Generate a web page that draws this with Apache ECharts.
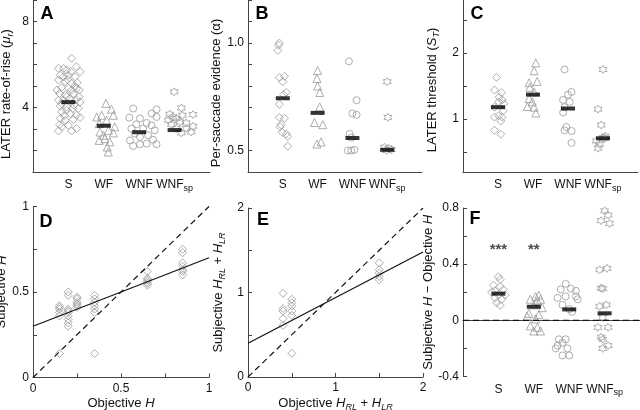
<!DOCTYPE html>
<html>
<head>
<meta charset="utf-8">
<script src="https://cdn.jsdelivr.net/npm/echarts@6/dist/echarts.min.js"></script>
<style>
  html, body { margin: 0; padding: 0; background: #fff; }
  #chart { width: 640px; height: 410px; }
</style>
</head>
<body>
<div id="chart"></div>
<script>
// group names used on panels A, B, C and F
const GROUPS = ['S', 'WF', 'WNF', 'WNFsp']

// panel A - LATER rate-of-rise, points as [jittered group position, value]
const riseS = [[0.72, 5.82], [0.86, 5.82], [0.95, 5.74], [1.22, 5.9], [1.09, 6.29], [1.33, 5.67], [0.77, 5.5], [1.0, 5.5],
  [1.19, 5.43], [0.72, 5.28], [0.91, 5.2], [1.09, 5.12], [1.25, 5.15], [0.81, 4.93], [1.0, 4.89], [1.31, 4.81],
  [0.75, 4.65], [0.91, 4.58], [1.14, 4.62], [0.72, 4.34], [0.86, 4.34], [1.05, 4.42], [1.22, 4.37], [1.33, 4.26],
  [0.77, 4.06], [0.95, 4.03], [1.16, 4.11], [1.28, 3.95], [0.81, 3.8], [1.05, 3.72], [1.23, 3.64], [0.77, 3.49],
  [0.91, 3.41], [1.14, 3.44], [1.33, 3.53], [0.81, 3.1], [1.0, 3.17], [1.23, 3.02], [0.72, 2.91], [1.09, 2.91],
  [0.95, 3.88], [1.09, 4.81], [0.81, 4.19], [1.23, 4.89], [0.95, 4.5], [0.86, 5.43], [1.07, 5.67], [0.68, 4.81],
  [1.3, 4.5], [1.12, 3.95], [0.88, 3.62], [1.18, 5.0], [0.98, 5.3], [0.75, 3.2]]
const riseWF = [[2.06, 4.19], [2.22, 3.92], [1.8, 3.56], [1.94, 3.64], [2.08, 3.41], [2.27, 3.64], [1.87, 3.25],
  [2.31, 3.1], [2.13, 2.94], [1.89, 2.86], [2.27, 2.82], [1.99, 2.71], [1.87, 2.47], [2.03, 2.55], [2.17, 2.4],
  [2.1, 2.16], [2.13, 1.93]]
const riseWNF = [[2.83, 3.95], [3.49, 3.91], [2.72, 3.53], [3.35, 3.72], [3.49, 3.56], [3.02, 3.49], [3.21, 3.28],
  [2.92, 3.22], [3.35, 3.17], [2.78, 3.02], [3.11, 3.02], [3.44, 2.94], [2.88, 2.79], [3.25, 2.71], [3.02, 2.63],
  [2.74, 2.47], [3.39, 2.5], [2.83, 2.21], [3.02, 2.29], [3.21, 2.32], [3.49, 2.29]]
const riseWNFsp = [[3.99, 4.73], [4.19, 3.98], [3.86, 3.69], [3.95, 3.56], [4.05, 3.49], [4.22, 3.64], [4.52, 3.67],
  [3.82, 3.41], [4.15, 3.33], [4.33, 3.28], [3.91, 3.22], [4.52, 3.13], [4.05, 3.02], [4.33, 3.02], [4.47, 2.86],
  [4.19, 2.82]]
const riseMedians = [4.25, 3.15, 2.85, 2.95]

// panel B - per-saccade evidence
const alphaS = [[0.9, 1.0], [0.88, 0.99], [0.86, 0.965], [0.9, 0.84], [1.05, 0.845], [1.0, 0.82], [1.1, 0.77],
  [1.02, 0.76], [0.9, 0.715], [0.9, 0.654], [1.05, 0.65], [0.95, 0.62], [0.92, 0.61], [0.98, 0.585], [1.1, 0.577],
  [1.14, 0.565], [1.14, 0.52]]
const alphaWF = [[2.0, 0.872], [1.98, 0.835], [2.0, 0.8], [2.06, 0.77], [2.06, 0.703], [1.91, 0.63], [2.15, 0.62],
  [2.1, 0.54], [1.98, 0.53]]
const alphaWNF = [[2.9, 0.915], [3.12, 0.734], [3.0, 0.672], [3.12, 0.666], [2.92, 0.577], [2.97, 0.56],
  [2.87, 0.5], [2.97, 0.5], [3.06, 0.503]]
const alphaWNFsp = [[4.0, 0.82], [4.02, 0.654], [3.92, 0.515], [4.04, 0.51], [4.12, 0.505], [3.98, 0.5]]
const alphaMedians = [0.743, 0.675, 0.558, 0.503]

// panel C - LATER threshold
const threshS = [[0.96, 1.63], [0.9, 1.44], [1.1, 1.4], [1.03, 1.33], [1.12, 1.29], [1.02, 1.26], [1.17, 1.23],
  [0.9, 1.18], [1.15, 1.13], [1.02, 1.05], [1.12, 1.03], [0.9, 1.03], [1.08, 0.97], [0.9, 0.83], [1.08, 0.77]]
const threshWF = [[2.08, 1.85], [2.03, 1.73], [2.12, 1.57], [1.89, 1.55], [1.91, 1.48], [2.03, 1.41], [1.89, 1.31],
  [1.98, 1.26], [1.84, 1.19], [2.03, 1.18], [2.08, 1.09]]
const threshWNF = [[2.9, 1.75], [3.1, 1.41], [3.0, 1.37], [2.86, 1.29], [3.05, 1.26], [2.9, 1.18], [2.86, 1.1],
  [2.95, 0.88], [2.9, 0.83], [3.1, 0.82], [3.1, 0.64]]
const threshWNFsp = [[4.0, 1.75], [3.86, 1.15], [3.95, 0.91], [3.81, 0.67], [4.0, 0.72], [4.07, 0.74],
  [3.86, 0.56], [3.9, 0.62], [4.05, 0.71]]
const threshMedians = [1.18, 1.37, 1.16, 0.71]

// panel D - subjective vs objective H
const hazardPoints = [[0.15, 0.42], [0.15, 0.41], [0.15, 0.4], [0.15, 0.38], [0.15, 0.36], [0.15, 0.14],
  [0.2, 0.5], [0.2, 0.48], [0.2, 0.4], [0.2, 0.39], [0.2, 0.38], [0.2, 0.36], [0.2, 0.34], [0.2, 0.32], [0.2, 0.3],
  [0.25, 0.47], [0.25, 0.46], [0.25, 0.44], [0.25, 0.43], [0.25, 0.42], [0.25, 0.41],
  [0.35, 0.48], [0.35, 0.46], [0.35, 0.44], [0.35, 0.42], [0.35, 0.4], [0.35, 0.38], [0.35, 0.14],
  [0.65, 0.62], [0.65, 0.58], [0.65, 0.57], [0.65, 0.56], [0.65, 0.55], [0.65, 0.54],
  [0.85, 0.75], [0.85, 0.73], [0.85, 0.67], [0.85, 0.65], [0.85, 0.63], [0.85, 0.62], [0.85, 0.6]]
const hazardFit = [[0, 0.3], [1, 0.7]]
const hazardUnity = [[0, 0], [1, 1]]

// panel E - summed switch hazards
const switchPoints = [[0.4, 0.99], [0.4, 0.81], [0.4, 0.78], [0.4, 0.69], [0.4, 0.61],
  [0.5, 0.92], [0.5, 0.88], [0.5, 0.84], [0.5, 0.78], [0.5, 0.73], [0.5, 0.28],
  [1.5, 1.35], [1.5, 1.27], [1.5, 1.23], [1.5, 1.19], [1.5, 1.15]]
const switchFit = [[0, 0.4], [2, 1.48]]
const switchUnity = [[0, 0], [2, 2]]

// panel F - subjective minus objective H
const biasS = [[1.0, 0.31], [1.05, 0.29], [0.86, 0.25], [1.05, 0.24], [0.9, 0.21], [1.14, 0.22], [0.81, 0.2],
  [1.0, 0.18], [1.19, 0.18], [0.9, 0.16], [1.1, 0.15], [0.95, 0.125], [1.05, 0.106]]
const biasWF = [[1.86, 0.05], [2.05, 0.17], [2.14, 0.18], [1.9, 0.15], [2.1, 0.14], [2.19, 0.15], [2.0, 0.11],
  [2.24, 0.09], [1.81, 0.03], [2.14, 0.04], [2.05, 0.01], [2.1, -0.05], [2.0, -0.076], [2.19, -0.076], [1.9, -0.04]]
const biasWNF = [[2.9, 0.26], [2.76, 0.22], [3.05, 0.225], [3.19, 0.21], [2.9, 0.17], [3.19, 0.17], [2.67, 0.16],
  [3.24, 0.15], [2.81, 0.11], [3.0, 0.08], [3.08, 0.06], [2.9, -0.135], [2.71, -0.135], [2.81, -0.16],
  [2.67, -0.18], [2.95, -0.2], [2.62, -0.2], [2.81, -0.25], [3.0, -0.25]]
const biasWNFsp = [[4.0, 0.78], [4.1, 0.75], [3.9, 0.71], [4.14, 0.69], [3.86, 0.36], [4.07, 0.37], [3.9, 0.23],
  [3.95, 0.225], [3.86, 0.1], [4.05, 0.11], [3.95, 0.02], [3.81, -0.05], [4.1, -0.05], [3.9, -0.12],
  [3.95, -0.135], [4.1, -0.18], [3.95, -0.2]]
const biasMedians = [0.19, 0.097, 0.078, 0.05]
const biasZero = [[0, 0], [5, 0]]
const biasStars = [[1, 0.5, '***'], [2, 0.5, '**']]

// tick positions and labelled ticks
const riseTicks = [1, 2, 3, 4, 5, 6, 7, 8, 9]
const riseLabels = [4, 8]
const alphaTicks = [0.4, 0.5, 0.6, 0.7, 0.8, 0.9, 1.0, 1.1, 1.2]
const alphaLabels = [0.5, 1.0]
const threshTicks = [0.5, 1, 1.5, 2, 2.5]
const threshLabels = [1, 2]
const hazardTicks = [0, 0.25, 0.5, 0.75, 1]
const hazardLabels = [0, 0.5, 1]
const switchTicks = [0, 0.5, 1, 1.5, 2]
const switchLabels = [0, 1, 2]
const biasTicks = [-0.4, -0.2, 0, 0.2, 0.4, 0.6, 0.8]
const biasLabels = [-0.4, 0, 0.4, 0.8]
const groupTicks = [1, 2, 3, 4]

const FONT = 'Liberation Sans, Arial, sans-serif'
const AXIS_COLOR = '#444'
const TEXT_COLOR = '#111'
const MARK_GREY = '#9a9a9a'
const HEXAGRAM = 'path://M100,0L128.87,50L186.6,50L157.7,100L186.6,150L128.87,150L100,200L71.13,150L13.4,150L42.3,100L13.4,50L71.13,50Z'
const MARKERS = [
  { symbol: 'diamond', size: 8 },
  { symbol: 'triangle', size: 8 },
  { symbol: 'circle', size: 7 },
  { symbol: HEXAGRAM, size: 8 }
]

const GRIDS = [
  { left: 33, top: 0, width: 177, height: 172 },
  { left: 248, top: 0, width: 174, height: 172 },
  { left: 463, top: 0, width: 175, height: 172 },
  { left: 33, top: 206.5, width: 176, height: 171 },
  { left: 248, top: 208, width: 175, height: 169 },
  { left: 463, top: 208, width: 177, height: 168.5 }
]

const RICH = {
  n: { fontSize: 13, fontFamily: FONT, color: TEXT_COLOR, lineHeight: 18 },
  i: { fontSize: 13, fontFamily: FONT, color: TEXT_COLOR, fontStyle: 'italic', lineHeight: 18 },
  s: { fontSize: 9, fontFamily: FONT, color: TEXT_COLOR, fontStyle: 'italic', lineHeight: 9, verticalAlign: 'bottom' },
  t: { fontSize: 12, fontFamily: FONT, color: TEXT_COLOR, lineHeight: 16 },
  u: { fontSize: 9, fontFamily: FONT, color: TEXT_COLOR, lineHeight: 8, verticalAlign: 'bottom' }
}

const near = (a, b) => Math.abs(a - b) < 1e-6

// shift is how far a rotated y name moves down from the axis middle
const numberAxis = (gridIndex, min, max, ticks, labels, fmt, name, nameGap, isX, shift = 0) => ({
  type: 'value',
  gridIndex,
  min,
  max,
  name,
  nameLocation: 'middle',
  nameGap,
  nameTextStyle: { rich: RICH, padding: [0, shift * 2, 0, 0] },
  axisLine: { lineStyle: { color: AXIS_COLOR, width: 1 } },
  axisTick: { inside: true, length: 4, customValues: ticks, lineStyle: { color: AXIS_COLOR } },
  axisLabel: {
    customValues: labels,
    margin: isX ? 5 : 4,
    fontSize: 12,
    fontFamily: FONT,
    color: TEXT_COLOR,
    formatter: (v) => fmt(labels.find(l => near(l, v)) ?? v)
  },
  splitLine: { show: false }
})

const groupAxis = (gridIndex) => ({
  type: 'value',
  gridIndex,
  min: 0,
  max: 5,
  axisLine: { lineStyle: { color: AXIS_COLOR, width: 1 } },
  axisTick: { show: false },
  axisLabel: {
    customValues: groupTicks,
    margin: 5,
    formatter: (v) => v === 4 ? '{t|WNF}{u|sp}' : '{t|' + GROUPS[v - 1] + '}',
    rich: RICH
  },
  splitLine: { show: false }
})

const hollow = { color: 'rgba(0,0,0,0)', borderColor: MARK_GREY, borderWidth: 1 }

const groupSeries = (gi, groups, medians) => [
  ...groups.map((pts, k) => ({
    type: 'scatter',
    xAxisIndex: gi,
    yAxisIndex: gi,
    data: pts,
    symbol: MARKERS[k].symbol,
    symbolSize: MARKERS[k].size,
    itemStyle: hollow,
    silent: true
  })),
  {
    type: 'scatter',
    xAxisIndex: gi,
    yAxisIndex: gi,
    data: medians.map((m, i) => [i + 1, m]),
    symbol: 'rect',
    symbolSize: [14, 4],
    itemStyle: { color: '#000' },
    z: 5,
    silent: true
  }
]

const lineSeries = (gi, data, dashed) => ({
  type: 'line',
  xAxisIndex: gi,
  yAxisIndex: gi,
  data,
  showSymbol: false,
  silent: true,
  lineStyle: { color: '#111', width: 1.2, type: dashed ? [6, 4] : 'solid' },
  z: 4
})

const plain = (v) => String(v)
const oneDecimal = (v) => v.toFixed(1)

const letters = [['A', 47, 14], ['B', 262, 14], ['C', 477, 14], ['D', 46, 222], ['E', 263, 220], ['F', 475, 219]]

const option = {
  animation: false,
  backgroundColor: '#fff',
  grid: GRIDS.map(g => ({ ...g, outerBoundsMode: 'none' })),
  xAxis: [
    groupAxis(0),
    groupAxis(1),
    groupAxis(2),
    numberAxis(3, 0, 1, hazardTicks, hazardLabels, plain, '{n|Objective }{i|H}', 17, true),
    numberAxis(4, 0, 2, switchTicks, switchLabels, plain, '{n|Objective }{i|H}{s|RL}{n| + }{i|H}{s|LR}', 17, true),
    groupAxis(5)
  ],
  yAxis: [
    numberAxis(0, 1, 9, riseTicks, riseLabels, plain, '{n|LATER rate-of-rise (}{i|μ}{s|r}{n|)}', 18, false, 8),
    numberAxis(1, 0.4, 1.2, alphaTicks, alphaLabels, oneDecimal, '{n|Per-saccade evidence (α)}', 22, false, 7),
    numberAxis(2, 0.2, 2.8, threshTicks, threshLabels, plain, '{n|LATER threshold (}{i|S}{s|T}{n|)}', 22, false, 4),
    numberAxis(3, 0, 1, hazardTicks, hazardLabels, plain, '{n|Subjective }{i|H}', 19),
    numberAxis(4, 0, 2, switchTicks, switchLabels, plain, '{n|Subjective }{i|H}{s|RL}{n| + }{i|H}{s|LR}', 21),
    numberAxis(5, -0.4, 0.8, biasTicks, biasLabels, plain, '{n|Subjective }{i|H}{n| − Objective }{i|H}', 21)
  ],
  graphic: letters.map(([text, x, y]) => ({
    type: 'text',
    style: { text, x, y, fontSize: 18, fontWeight: 'bold', fontFamily: FONT, fill: '#000', align: 'center', verticalAlign: 'middle' },
    z: 10
  })),
  series: [
    ...groupSeries(0, [riseS, riseWF, riseWNF, riseWNFsp], riseMedians),
    ...groupSeries(1, [alphaS, alphaWF, alphaWNF, alphaWNFsp], alphaMedians),
    ...groupSeries(2, [threshS, threshWF, threshWNF, threshWNFsp], threshMedians),
    {
      type: 'scatter', xAxisIndex: 3, yAxisIndex: 3, data: hazardPoints,
      symbol: 'diamond', symbolSize: 8, itemStyle: hollow, silent: true
    },
    lineSeries(3, hazardFit, false),
    lineSeries(3, hazardUnity, true),
    {
      type: 'scatter', xAxisIndex: 4, yAxisIndex: 4, data: switchPoints,
      symbol: 'diamond', symbolSize: 8, itemStyle: hollow, silent: true
    },
    lineSeries(4, switchFit, false),
    lineSeries(4, switchUnity, true),
    lineSeries(5, biasZero, true),
    ...groupSeries(5, [biasS, biasWF, biasWNF, biasWNFsp], biasMedians),
    {
      type: 'scatter', xAxisIndex: 5, yAxisIndex: 5, data: biasStars,
      symbolSize: 0, silent: true,
      label: {
        show: true, position: 'inside', formatter: (p) => p.data[2],
        fontSize: 15, fontWeight: 'bold', fontFamily: FONT, color: '#222'
      }
    }
  ]
}

const chart = echarts.init(document.getElementById('chart'))
chart.setOption(option)
</script>
</body>
</html>
